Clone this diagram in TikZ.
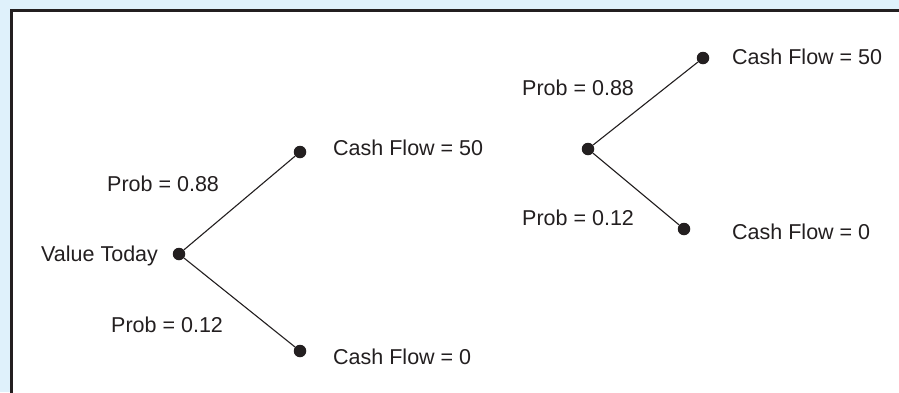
\documentclass[tikz,border=0pt]{standalone}
\usepackage{fontspec}
\setmainfont{Liberation Sans}
\definecolor{bgblue}{HTML}{DFF1FB}
\definecolor{ink}{HTML}{231F20}
\begin{document}
\begin{tikzpicture}[x=1pt,y=-1pt,
  dot/.style={circle,fill=ink,inner sep=0pt,minimum size=12.5pt},
  lbl/.style={font=\fontsize{21.5}{24}\selectfont,inner sep=0pt,text=ink,anchor=west},
  branch/.style={draw=ink,line width=1.1pt}]
\useasboundingbox (0,0) rectangle (899,392);
\fill[bgblue] (0,0) rectangle (899,392);
\fill[white] (11,10.5) rectangle (899,392);
\draw[ink,line width=3pt] (11,393) -- (11,10.5) -- (900,10.5);
% left tree
\node[dot] (r1) at (179,254) {};
\node[dot] (u1) at (300,152) {};
\node[dot] (d1) at (300,351) {};
\draw[branch] (r1) -- (u1);
\draw[branch] (r1) -- (d1);
\node[lbl] (vt) at (41,256) {Value Today};
\node[lbl] (p1u) at (107,184) {Prob = 0.88};
\node[lbl] (p1d) at (111,325) {Prob = 0.12};
\node[lbl] (c1u) at (333,148) {Cash Flow = 50};
\node[lbl] (c1d) at (333,357) {Cash Flow = 0};
% right tree
\node[dot] (r2) at (588,149) {};
\node[dot] (u2) at (703,58) {};
\node[dot] (d2) at (684,229) {};
\draw[branch] (r2) -- (u2);
\draw[branch] (r2) -- (d2);
\node[lbl] (p2u) at (522,88) {Prob = 0.88};
\node[lbl] (p2d) at (522,218) {Prob = 0.12};
\node[lbl] (c2u) at (732,57) {Cash Flow = 50};
\node[lbl] (c2d) at (732,232) {Cash Flow = 0};
\end{tikzpicture}
\end{document}
